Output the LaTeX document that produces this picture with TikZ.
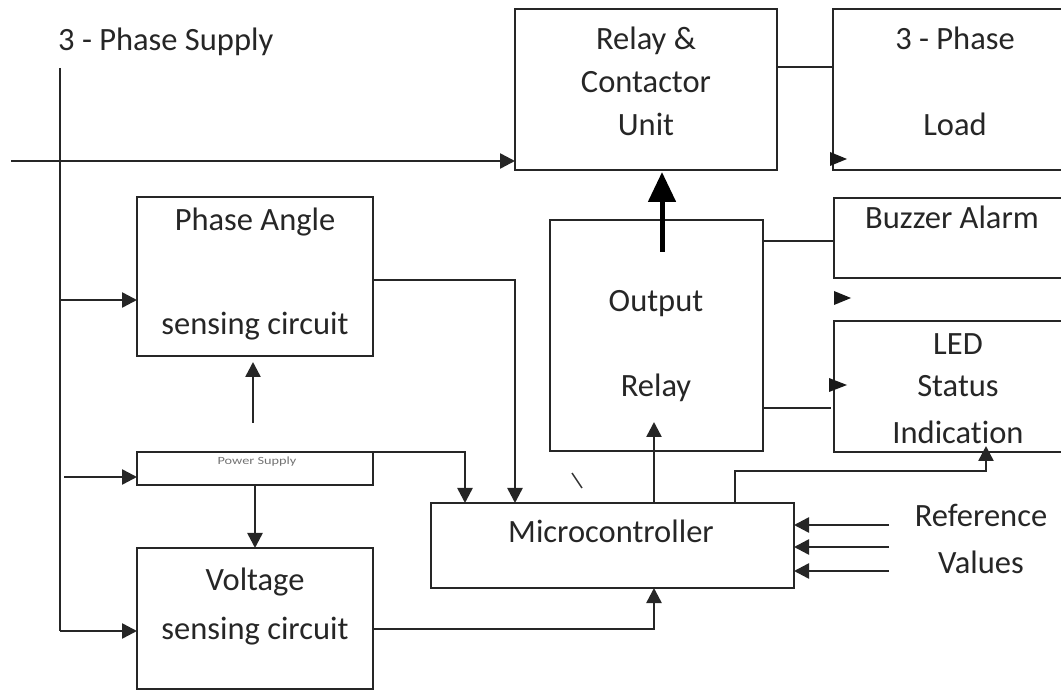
\documentclass[tikz,border=0pt]{standalone}
\usepackage{fontspec}
\setmainfont{Carlito}[Ligatures=NoCommon]
\usetikzlibrary{arrows.meta}
\begin{document}
\begin{tikzpicture}[x=1pt,y=-1pt,
  box/.style={draw=black!85, line width=2.5pt, inner sep=0pt, outer sep=0pt},
  lbl/.style={font=\fontsize{32.5}{38}\selectfont, text=black!85, inner sep=0pt, anchor=base},
  ln/.style={draw=black!85, line width=2.5pt},
  arr/.style={draw=black!85, line width=2.5pt, -{Triangle[length=15pt,width=15pt]}},
  bigarr/.style={draw=black, line width=5pt, -{Triangle[length=30pt,width=27pt]}},
  tip/.style={fill=black!90}
]
\useasboundingbox (0,0) rectangle (1061,692);
\clip (0,0) rectangle (1061,692);

% boxes
\node[box, minimum width=262pt, minimum height=161pt] (relay) at (646,89.5) {};
\node[box, minimum width=247pt, minimum height=161pt] (load) at (956.5,89.5) {};
\node[box, minimum width=236pt, minimum height=159pt] (phase) at (255,276.5) {};
\node[box, minimum width=236pt, minimum height=33pt] (power) at (255,468.5) {};
\node[box, minimum width=236pt, minimum height=141pt] (volt) at (255,618.5) {};
\node[box, minimum width=363pt, minimum height=85pt] (micro) at (612.5,545.5) {};
\node[box, minimum width=213pt, minimum height=231pt] (outr) at (656.5,335.5) {};
\node[box, minimum width=246pt, minimum height=80pt] (buzz) at (957,238) {};
\node[box, minimum width=246pt, minimum height=131pt] (led) at (957,386.5) {};

% texts
\node[lbl, anchor=base west] (tsupply) at (58,51) {3 - Phase Supply};
\node[lbl] (trel1) at (646,50) {Relay \&};
\node[lbl] (trel2) at (646,93) {Contactor};
\node[lbl] (trel3) at (646,136) {Unit};
\node[lbl] (tload1) at (955,50) {3 - Phase};
\node[lbl] (tload2) at (955,136) {Load};
\node[lbl] (tpa1) at (255,231) {Phase Angle};
\node[lbl] (tpa2) at (255,335) {sensing circuit};
\node[font=\fontsize{11}{13}\selectfont, text=black!55, inner sep=0pt, anchor=base] (tps) at (257,465) {\scalebox{1.3}[1]{Power Supply}};
\node[lbl] (tv1) at (255,590) {Voltage};
\node[lbl] (tv2) at (255,639) {sensing circuit};
\node[lbl] (tmc) at (611,543) {Microcontroller};
\node[lbl] (tor1) at (656,312) {Output};
\node[lbl] (tor2) at (656,397) {Relay};
\node[lbl] (tbz) at (952,229) {Buzzer Alarm};
\node[lbl] (tled1) at (958,355) {LED};
\node[lbl] (tled2) at (958,397) {Status};
\node[lbl] (tled3) at (958,444) {Indication};
\node[lbl] (tref1) at (981,527) {Reference};
\node[lbl] (tref2) at (981,573) {Values};

% coordinates
\coordinate (stop) at (60,68);
\coordinate (sbot) at (60,631);
\coordinate (hin) at (11,161);
\coordinate (jp) at (60,300);
\coordinate (jw) at (64,477);
\coordinate (pa1) at (253,423);
\coordinate (pa2) at (253,362);
\coordinate (m1) at (465,503);
\coordinate (pe) at (373,280);
\coordinate (m2) at (515,503);
\coordinate (ve) at (373,629);
\coordinate (m3) at (654,588);
\coordinate (o1) at (654,503);
\coordinate (o2) at (654,422);
\coordinate (t1) at (662,252);
\coordinate (t2) at (662,172);
\coordinate (rl) at (777,67);
\coordinate (ob) at (763,241);
\coordinate (ol) at (763,408);
\coordinate (ole) at (831,408);
\coordinate (ml) at (735,503);
\coordinate (lb) at (986,446);
\coordinate (r1) at (889,525);
\coordinate (r2) at (889,547);
\coordinate (r3) at (889,571);
\coordinate (bs1) at (572,473);
\coordinate (bs2) at (582,488);

% connectors
\draw[ln] (stop) -- (sbot);
\draw[arr] (hin) -- (hin -| relay.west);
\draw[arr] (jp) -- (jp -| phase.west);
\draw[arr] (jw) -- (jw -| power.west);
\draw[arr] (sbot) -- (sbot -| volt.west);
\draw[arr] (pa1) -- (pa2);
\draw[arr] (power.south) -- (volt.north);
\draw[arr] (power.north east) -| (m1);
\draw[arr] (pe) -| (m2);
\draw[arr] (ve) -| (m3);
\draw[arr] (o1) -- (o2);
\draw[bigarr] (t1) -- (t2);
\draw[ln] (rl) -- (rl -| load.west);
\draw[ln] (ob) -- (ob -| buzz.west);
\draw[ln] (ol) -- (ole);
\draw[arr] (ml) -- ++(0,-32) -| (lb);
\draw[arr] (r1) -- (r1 -| micro.east);
\draw[arr] (r2) -- (r2 -| micro.east);
\draw[arr] (r3) -- (r3 -| micro.east);
\draw[line width=1.5pt, black!80] (bs1) -- (bs2);

% loose arrowheads
\fill[tip] (830,152) -- (847,159) -- (830,166) -- cycle;
\fill[tip] (834,291) -- (851,298) -- (834,305) -- cycle;
\fill[tip] (829,378) -- (847,385) -- (829,392) -- cycle;
\end{tikzpicture}
\end{document}
